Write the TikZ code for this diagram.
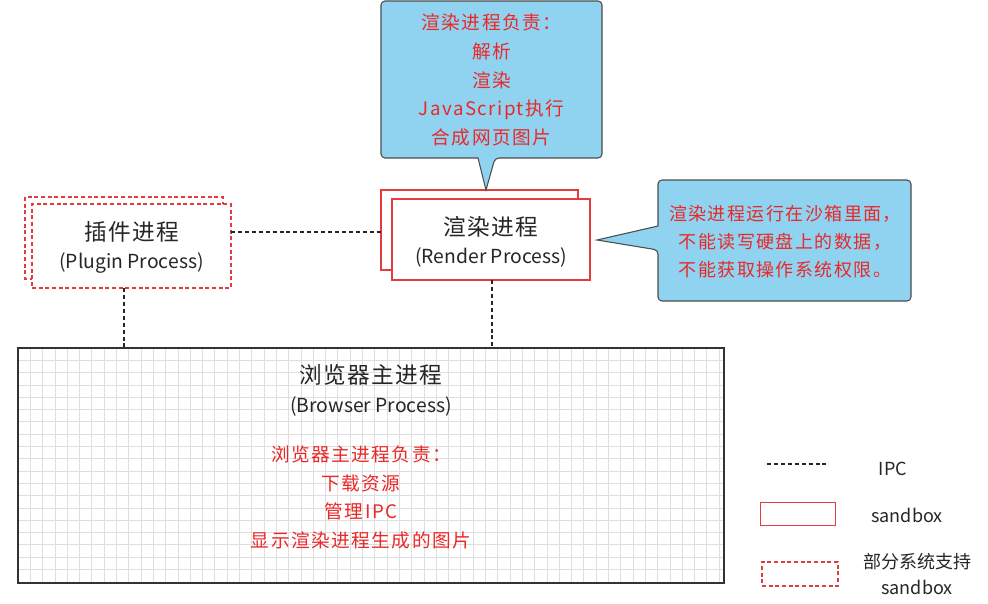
\documentclass[tikz,border=0pt]{standalone}
\usepackage{fontspec}
\setmainfont{Noto Sans CJK SC}
\usetikzlibrary{calc}
\definecolor{sbred}{RGB}{228,60,60}
\definecolor{txtred}{RGB}{235,40,40}
\definecolor{callblue}{RGB}{143,211,240}
\definecolor{gridgray}{RGB}{222,222,222}
\tikzset{
  sbox/.style={draw=sbred, line width=0.9pt},
  sdash/.style={draw=sbred, line width=1.2pt, dash pattern=on 3pt off 2pt},
  ipc/.style={draw=black!85, line width=1pt, dash pattern=on 3pt off 2.2pt},
  callout/.style={draw=black!70, fill=callblue, line width=0.8pt, rounded corners=3pt},
  redtxt/.style={text=txtred, font=\fontsize{14}{21.5}\selectfont\addfontfeatures{LetterSpace=8}, align=center},
  title/.style={font=\fontsize{17}{20}\selectfont\addfontfeatures{LetterSpace=6}, text=black!85},
  sub/.style={font=\fontsize{14.5}{16}\selectfont, text=black!85},
  legtxt/.style={font=\fontsize{13.5}{20}\selectfont, text=black!85, align=center}
}
\begin{document}
\begin{tikzpicture}[x=0.75pt,y=-0.75pt]
\useasboundingbox (0,0) rectangle (988,603);
\fill[white] (0,0) rectangle (988,603);

% browser process box with grid
\foreach \gx in {30.3,42.6,...,720} \draw[gridgray, line width=0.5pt] (\gx,348) -- (\gx,583);
\foreach \gy in {360.3,372.6,...,580} \draw[gridgray, line width=0.5pt] (18,\gy) -- (724,\gy);
\node[draw=black!80, line width=1.6pt, minimum width=706*0.75pt, minimum height=235*0.75pt, inner sep=0pt] (browser) at (371,465.5) {};
\node[title] (btitle) at (371,375) {浏览器主进程};
\node[sub] (bsub) at (371,406) {(Browser Process)};
\node[redtxt] (bdesc) at (361,497.5) {浏览器主进程负责：\\下载资源\\管理IPC\\显示渲染进程生成的图片};

% plugin process (dashed double)
\draw[sdash, fill=white] (25,197) rectangle (223,279);
\node[sdash, fill=white, minimum width=199*0.75pt, minimum height=84*0.75pt, inner sep=0pt] (plugin) at (131.5,246) {};
\node[title] (ptitle) at (131.5,232) {插件进程};
\node[sub] (psub) at (131.5,263) {(Plugin Process)};

% render process (double)
\draw[sbox, fill=white] (381,190) rectangle (578,270);
\node[sbox, fill=white, minimum width=198*0.75pt, minimum height=81*0.75pt, inner sep=0pt] (render) at (491,239.5) {};
\node[title] (rtitle) at (491,227) {渲染进程};
\node[sub] (rsub) at (491,257) {(Render Process)};

% IPC connectors
\coordinate (plugR) at (231,232);
\coordinate (rendL) at (381,232);
\draw[ipc] (plugR) -- (rendL);
\draw[ipc] (124,288) coordinate (pb1) -- (124,348) coordinate (pb2);
\draw[ipc] (492,280) coordinate (rb1) -- (492,348) coordinate (rb2);

% top callout
\draw[callout] (381,1) -- (602,1) -- (602,158) -- (495,158)
  [sharp corners] -- (486,190) -- (478,158) [rounded corners=3pt] -- (381,158) -- cycle;
\node[redtxt] (tdesc) at (491.5,80) {渲染进程负责：\\解析\\渲染\\JavaScript执行\\合成网页图片};

% right callout
\draw[callout] (658,180) -- (911,180) -- (911,301) -- (658,301) -- (658,250)
  [sharp corners] -- (597,240) -- (658,226) [rounded corners=3pt] -- cycle;
\node[redtxt, font=\fontsize{13.5}{21}\selectfont\addfontfeatures{LetterSpace=8}] (rdesc) at (785,242) {渲染进程运行在沙箱里面，\\不能读写硬盘上的数据，\\不能获取操作系统权限。};

% legend
\coordinate (l1a) at (767,464);
\coordinate (l1b) at (829,464);
\draw[ipc] (l1a) -- (l1b);
\node[legtxt] (lipc) at (893,469) {IPC};
\node[sbox, line width=0.7pt, minimum width=75*0.75pt, minimum height=23*0.75pt, inner sep=0pt] (lsb) at (797.5,513.5) {};
\node[legtxt] (lsbt) at (907,515) {sandbox};
\node[sdash, line width=1pt, minimum width=76*0.75pt, minimum height=24*0.75pt, inner sep=0pt] (lpsb) at (800,574) {};
\node[legtxt] (lpsbt) at (917,574) {部分系统支持\\sandbox};
\end{tikzpicture}
\end{document}
